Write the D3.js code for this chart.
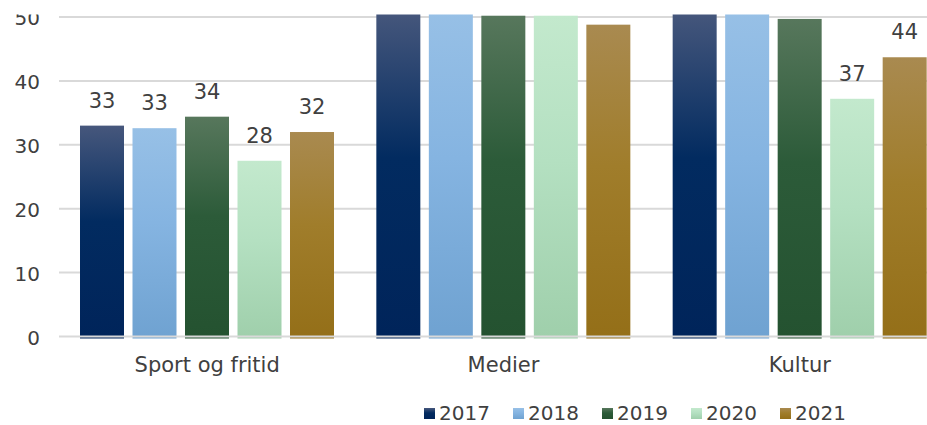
<!DOCTYPE html>
<html>
<head>
<meta charset="utf-8">
<script src="https://cdn.jsdelivr.net/npm/d3@7"></script>
<style>
  body { margin: 0; background: #fff; }
  svg { display: block; font-family: "DejaVu Sans", sans-serif; }
  .tick text { fill: #404040; }
</style>
</head>
<body>
<svg id="chart" width="927" height="425"></svg>
<script>
var categories = ["Sport og fritid", "Medier", "Kultur"];
var years = ["2017", "2018", "2019", "2020", "2021"];
var v2017 = [33.0, 51.0, 51.0];
var v2018 = [32.6, 51.0, 51.0];
var v2019 = [34.4, 50.2, 49.7];
var v2020 = [27.5, 50.2, 37.2];
var v2021 = [32.0, 48.8, 43.7];
var yTicks = [0, 10, 20, 30, 40, 50];

var seriesValues = [v2017, v2018, v2019, v2020, v2021];
// top / middle / bottom shades of each year's gradient
var shades = [
  ["#46577c", "#022b60", "#00245a"],
  ["#97c0e6", "#85b4e1", "#6fa2d1"],
  ["#57775c", "#2c5b39", "#245230"],
  ["#c3e9cd", "#b4e0c1", "#9fcfab"],
  ["#a98a50", "#a07d2b", "#946f18"]
];

var svg = d3.select("#chart");
var defs = svg.append("defs");

years.forEach(function(yr, i) {
  var grad = defs.append("linearGradient")
      .attr("id", "g" + yr)
      .attr("x1", 0).attr("y1", 0).attr("x2", 0).attr("y2", 1);
  grad.append("stop").attr("offset", 0).attr("stop-color", shades[i][0]);
  grad.append("stop").attr("offset", 0.45).attr("stop-color", shades[i][1]);
  grad.append("stop").attr("offset", 1).attr("stop-color", shades[i][2]);
});

// the picture is cut off just above the 50 line
defs.append("clipPath").attr("id", "topclip")
  .append("rect").attr("x", 0).attr("y", 14.5).attr("width", 927).attr("height", 335);

var x0 = d3.scaleBand().domain(categories).range([59, 948]);
var x1 = d3.scaleBand().domain(years).range([21, 275]).paddingInner(0.162);
var y = d3.scaleLinear().domain([0, 50]).range([336.5, 17]);

var chart = svg.append("g").attr("clip-path", "url(#topclip)");

// gridlines behind the bars
chart.append("g")
  .selectAll("line")
  .data(yTicks.filter(function(d) { return d > 0; }))
  .enter().append("line")
    .attr("x1", 59).attr("x2", 927)
    .attr("y1", function(d) { return y(d); })
    .attr("y2", function(d) { return y(d); })
    .attr("stroke", "#d9d9d9")
    .attr("stroke-width", 2);

var rows = [];
categories.forEach(function(c, ci) {
  years.forEach(function(yr, si) {
    rows.push({cat: c, year: yr, value: seriesValues[si][ci]});
  });
});

chart.selectAll("rect.bar")
  .data(rows)
  .enter().append("rect")
    .attr("class", "bar")
    .attr("x", function(d) { return x0(d.cat) + x1(d.year); })
    .attr("width", x1.bandwidth())
    .attr("y", function(d) { return y(d.value); })
    .attr("height", function(d) { return y(0) - y(d.value) + 2; })
    .attr("fill", function(d) { return "url(#g" + d.year + ")"; });

// zero line over the bars
chart.append("line")
  .attr("x1", 59).attr("x2", 927)
  .attr("y1", y(0)).attr("y2", y(0))
  .attr("stroke", "#d9d9d9")
  .attr("stroke-width", 2);

var fmt = d3.format(".0f");
chart.append("g")
  .selectAll("text")
  .data(rows.filter(function(d) { return y(d.value) - 18 - 15 >= 0; }))
  .enter().append("text")
    .attr("x", function(d) { return x0(d.cat) + x1(d.year) + x1.bandwidth() / 2; })
    .attr("y", function(d) { return y(d.value) - 18; })
    .attr("text-anchor", "middle")
    .attr("font-size", 21)
    .attr("fill", "#404040")
    .text(function(d) { return fmt(d.value); });

// y axis labels
var yAxis = chart.append("g")
  .attr("transform", "translate(40,1.5)")
  .call(d3.axisLeft(y).tickValues(yTicks).tickSize(0).tickPadding(0));
yAxis.select(".domain").remove();
yAxis.selectAll("text").attr("font-size", 20).attr("font-family", "DejaVu Sans");

// category labels
svg.append("g")
  .selectAll("text")
  .data(categories)
  .enter().append("text")
    .attr("x", function(d) { return x0(d) + x0.bandwidth() / 2; })
    .attr("y", 372)
    .attr("text-anchor", "middle")
    .attr("font-size", 21)
    .attr("fill", "#404040")
    .text(function(d) { return d; });

// legend
var legend = svg.append("g").attr("transform", "translate(424,0)");
var item = legend.selectAll("g")
  .data(years)
  .enter().append("g")
    .attr("transform", function(d, i) { return "translate(" + (i * 89) + ",0)"; });
item.append("rect")
  .attr("x", 0).attr("y", 408)
  .attr("width", 11).attr("height", 11)
  .attr("fill", function(d) { return "url(#g" + d + ")"; });
item.append("text")
  .attr("x", 15).attr("y", 420)
  .attr("font-size", 20)
  .attr("fill", "#404040")
  .text(function(d) { return d; });
</script>
</body>
</html>
